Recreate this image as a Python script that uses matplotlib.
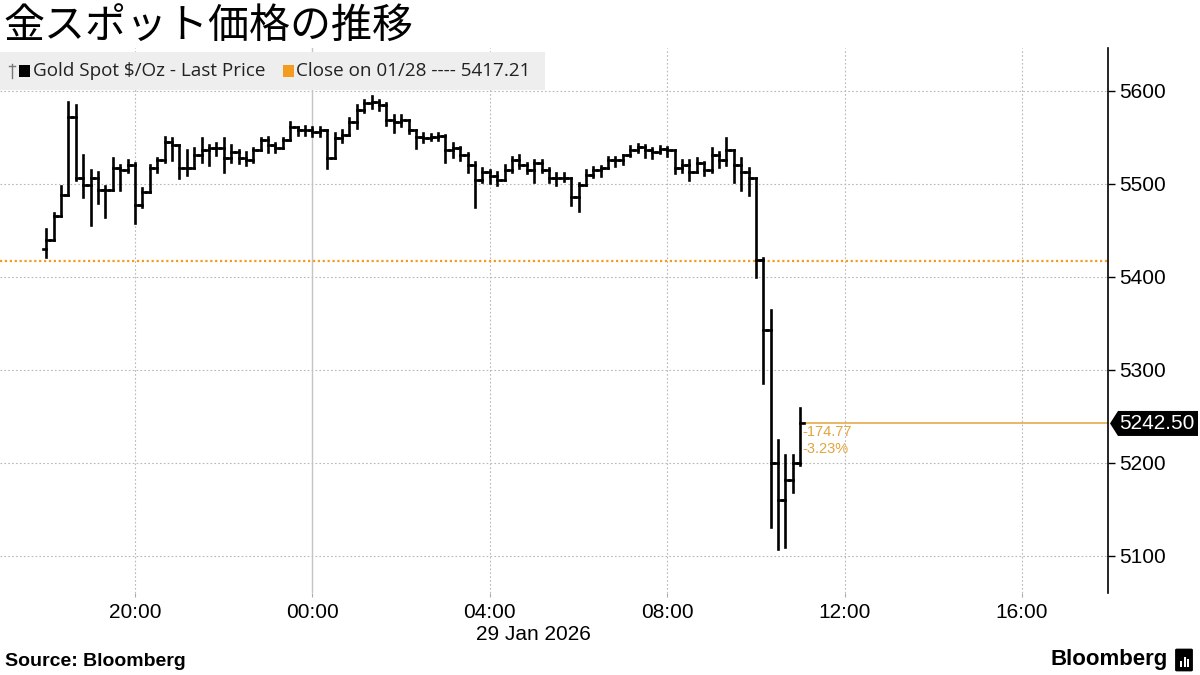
import matplotlib
matplotlib.use("Agg")
import matplotlib.pyplot as plt
import matplotlib.dates as mdates
import matplotlib.transforms as mtransforms
from matplotlib.collections import LineCollection
from matplotlib.patches import Rectangle, FancyBboxPatch, Polygon
from matplotlib.lines import Line2D
import pandas as pd

# ---------------- data ----------------
title = "金スポット価格の推移"
legend_series = "Gold Spot $/Oz - Last Price"
legend_close = "Close on 01/28 ---- 5417.21"
date_label = "29 Jan 2026"
source_text = "Source: Bloomberg"
prev_close = 5417.21
last_price = 5242.50
change_abs = "-174.77"
change_pct = "-3.23%"
start_time = "2026-01-28 18:00"
bar_minutes = 10
first_open = 5430

high = [5452, 5469, 5498, 5588, 5585, 5531, 5515, 5513, 5498, 5528,
        5520, 5526, 5523, 5496, 5520, 5528, 5551, 5549, 5537, 5537,
        5539, 5549, 5542, 5544, 5549, 5542, 5537, 5534, 5539, 5549,
        5551, 5544, 5549, 5567, 5561, 5562, 5561, 5561, 5558, 5555,
        5558, 5571, 5585, 5590, 5595, 5590, 5587, 5574, 5574, 5569,
        5558, 5555, 5554, 5555, 5553, 5544, 5540, 5533, 5524, 5517,
        5515, 5513, 5520, 5529, 5531, 5523, 5526, 5526, 5517, 5512,
        5512, 5506, 5501, 5515, 5518, 5519, 5529, 5529, 5531, 5541,
        5543, 5542, 5539, 5541, 5540, 5526, 5526, 5526, 5528, 5524,
        5539, 5534, 5549, 5537, 5528, 5517, 5506, 5420, 5365, 5225,
        5209, 5209, 5259]
low = [5422, 5445, 5477, 5494, 5504, 5486, 5456, 5480, 5464, 5494,
       5494, 5513, 5458, 5475, 5494, 5513, 5524, 5526, 5506, 5510,
       5520, 5524, 5520, 5531, 5513, 5524, 5523, 5520, 5524, 5537,
       5534, 5534, 5539, 5547, 5553, 5553, 5552, 5552, 5517, 5528,
       5545, 5553, 5560, 5577, 5582, 5580, 5563, 5556, 5562, 5555,
       5539, 5545, 5547, 5547, 5524, 5529, 5526, 5513, 5475, 5502,
       5501, 5499, 5510, 5513, 5517, 5512, 5502, 5513, 5502, 5499,
       5503, 5477, 5471, 5499, 5508, 5509, 5517, 5519, 5522, 5530,
       5534, 5529, 5528, 5533, 5530, 5512, 5513, 5504, 5515, 5510,
       5513, 5518, 5520, 5502, 5494, 5488, 5400, 5286, 5131, 5107,
       5110, 5169, 5198]
close = [5440, 5466, 5488, 5572, 5506, 5499, 5506, 5494, 5494, 5517,
         5515, 5520, 5477, 5491, 5517, 5526, 5545, 5542, 5517, 5517,
         5531, 5537, 5539, 5539, 5528, 5534, 5528, 5526, 5537, 5547,
         5542, 5539, 5547, 5561, 5558, 5558, 5556, 5558, 5528, 5549,
         5553, 5567, 5580, 5587, 5588, 5585, 5569, 5567, 5569, 5558,
         5551, 5549, 5551, 5552, 5537, 5539, 5531, 5520, 5504, 5513,
         5509, 5504, 5515, 5526, 5520, 5515, 5523, 5515, 5506, 5506,
         5506, 5486, 5499, 5510, 5515, 5517, 5526, 5526, 5531, 5537,
         5540, 5537, 5534, 5538, 5537, 5517, 5520, 5513, 5523, 5515,
         5531, 5526, 5537, 5520, 5513, 5506, 5418, 5343, 5200, 5160,
         5182, 5200, 5242.5]

y_ticks = [5100, 5200, 5300, 5400, 5500, 5600]
x_tick_times = ["2026-01-28 20:00", "2026-01-29 00:00", "2026-01-29 04:00",
                "2026-01-29 08:00", "2026-01-29 12:00", "2026-01-29 16:00"]
day_boundary = "2026-01-29 00:00"

# ---------------- style ----------------
ORANGE = "#f39c1f"
GOLD = "#e3a43c"
GRID = "#b8b8b8"
TICKFONT = "Liberation Sans"
W, H = 1200, 675


def fx(px):
    return px / W


def fy(py):
    return 1 - py / H


fig = plt.figure(figsize=(12, 6.75), dpi=100)
ax = fig.add_axes([0.0, fy(593), fx(1108), fy(48) - fy(593)])
ax.set_axisbelow(True)

times = pd.date_range(start_time, periods=len(close), freq=f"{bar_minutes}min")
xs = mdates.date2num(times)
half = bar_minutes / 2 / 1440.0
opens = [first_open] + close[:-1]

segs = []
for x, o, h, l, c in zip(xs, opens, high, low, close):
    hi = max(h, o, c)
    lo = min(l, o, c)
    segs.append([(x, lo), (x, hi)])
    segs.append([(x - half, o), (x, o)])
    segs.append([(x, c), (x + half, c)])
lc = LineCollection(segs, colors="black", linewidths=1.9, zorder=3,
                    capstyle="projecting")
ax.add_collection(lc)

x_left = mdates.date2num(pd.Timestamp("2026-01-28 16:57:20"))
x_right = mdates.date2num(pd.Timestamp("2026-01-29 17:56:20"))
ax.set_xlim(x_left, x_right)
ax.set_ylim(5060.2, 5646.2)

# grid
for yt in y_ticks:
    ax.axhline(yt, color=GRID, lw=0.8, linestyle=(0, (1.5, 2)), zorder=1)
tick_nums = mdates.date2num(pd.to_datetime(x_tick_times))
db = mdates.date2num(pd.Timestamp(day_boundary))
for xt in tick_nums:
    if abs(xt - db) < 1e-6:
        ax.axvline(xt, color="#c4c4c4", lw=1.0, zorder=1)
    else:
        ax.axvline(xt, color=GRID, lw=0.8, linestyle=(0, (1.5, 2)), zorder=1)

# previous close line
ax.axhline(prev_close, color=ORANGE, lw=1.6, linestyle=(0, (1, 1.2)), zorder=2)
# last price line
ax.hlines(last_price, xs[-1], x_right, color=GOLD, lw=1.1, zorder=2)
ax.text(xs[-1] + half * 0.5, last_price - 9, change_abs, color=GOLD,
        fontsize=10.5, family=TICKFONT, va="center", ha="left")
ax.text(xs[-1] + half * 0.5, last_price - 27, change_pct, color=GOLD,
        fontsize=10.5, family=TICKFONT, va="center", ha="left")

# axes styling
for s in ["left", "top", "bottom"]:
    ax.spines[s].set_visible(False)
ax.spines["right"].set_color("black")
ax.spines["right"].set_linewidth(1.2)
ax.yaxis.tick_right()
ax.set_yticks(y_ticks)
ax.set_yticklabels([str(v) for v in y_ticks])
ax.tick_params(axis="y", direction="out", length=5, width=1, pad=3,
               labelsize=15, colors="black")
ax.set_xticks(tick_nums)
ax.set_xticklabels([pd.Timestamp(t).strftime("%H:%M") for t in x_tick_times])
ax.tick_params(axis="x", direction="out", length=3, width=0.8,
               color="#aaaaaa", labelsize=15, pad=4)
for lab in ax.get_xticklabels() + ax.get_yticklabels():
    lab.set_family(TICKFONT)

# last price tag (small arrow-shaped box)
tag_y = ax.transData.transform((xs[-1], last_price))[1]
tag_py = H - tag_y
poly = Polygon([(fx(1110), fy(tag_py)), (fx(1118), fy(tag_py - 12.5)),
                (fx(1198), fy(tag_py - 12.5)), (fx(1198), fy(tag_py + 12.5)),
                (fx(1118), fy(tag_py + 12.5))], closed=True,
               transform=fig.transFigure, fc="black", ec="none", zorder=5)
fig.patches.append(poly)
trans = mtransforms.blended_transform_factory(fig.transFigure, ax.transData)
fig.text(fx(1119), fy(tag_py), f"{last_price:.2f}", color="white",
         fontsize=15, family=TICKFONT, va="center", ha="left", zorder=6)

# legend strip
fig.patches.append(Rectangle((0, fy(90)), fx(545), 38 / H,
                             transform=fig.transFigure, fc="#eeeeee",
                             ec="none", zorder=0.2))
ly = fy(71)
fig.lines.append(Line2D([fx(12), fx(12)], [fy(64), fy(78)],
                        transform=fig.transFigure, color="#777777", lw=1))
fig.lines.append(Line2D([fx(9), fx(15)], [fy(66), fy(66)],
                        transform=fig.transFigure, color="#777777", lw=1))
fig.patches.append(Rectangle((fx(19), fy(77)), fx(11), 12 / H,
                             transform=fig.transFigure, fc="black", ec="none"))
fig.text(fx(33), ly, legend_series, fontsize=13.6, family="Open Sans",
         va="center", ha="left", color="#222222")
fig.patches.append(Rectangle((fx(283), fy(77)), fx(11), 12 / H,
                             transform=fig.transFigure, fc=ORANGE, ec="none"))
fig.text(fx(296), ly, legend_close, fontsize=13.6, family="Open Sans",
         va="center", ha="left", color="#222222")

# title
fig.text(fx(3), fy(26), title, fontsize=29.5,
         family=["Noto Sans CJK JP", "DejaVu Sans"], va="center", ha="left",
         color="black")

# date label
fig.text(fx(533), fy(634), date_label, fontsize=15, family=TICKFONT,
         va="center", ha="center")

# source
fig.text(fx(5), fy(662), source_text, fontsize=14, weight="bold",
         family=TICKFONT, va="center", ha="left")

# Bloomberg logo
fig.text(fx(1168), fy(660), "Bloomberg", fontsize=16, weight="bold",
         family=TICKFONT, va="center", ha="right")
fig.patches.append(FancyBboxPatch((fx(1177), fy(670)), fx(14), 20 / H,
                                  boxstyle="round,pad=0.001",
                                  transform=fig.transFigure, fc="black",
                                  ec="black"))
for i, hgt in enumerate([6, 10, 8]):
    fig.patches.append(Rectangle((fx(1180 + 3.5 * i), fy(667)), fx(2),
                                 hgt / H, transform=fig.transFigure,
                                 fc="white", ec="none"))

fig.savefig("out.png", dpi=100, facecolor="white")
